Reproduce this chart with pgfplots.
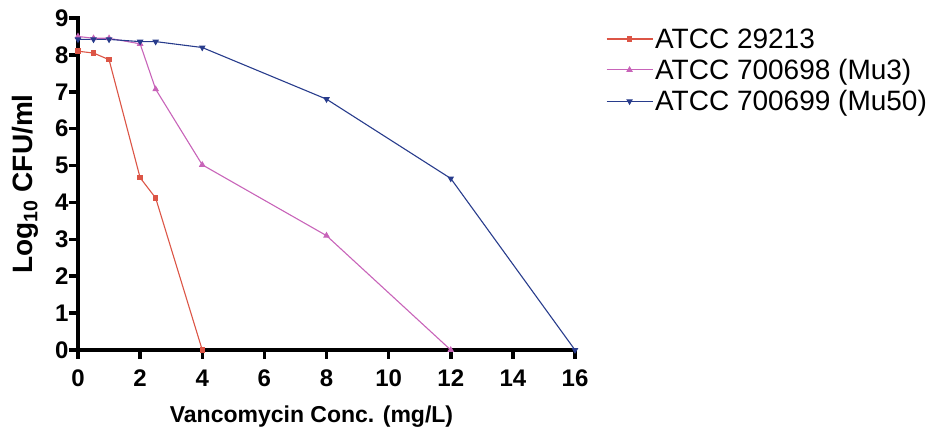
\documentclass[border=0pt]{standalone}
\usepackage{pgfplots}
\pgfplotsset{compat=1.18}
\usepackage{fontspec}
\setmainfont{Liberation Sans}
\definecolor{cred}{RGB}{220,85,70}
\definecolor{cmag}{RGB}{200,100,185}
\definecolor{cblue}{RGB}{40,60,140}
\begin{document}
\begin{tikzpicture}[x=1pt,y=1pt]
\path[use as bounding box] (0,0) rectangle (931,435);
\begin{axis}[
  at={(78pt,85pt)}, anchor=origin,
  scale only axis, width=497pt, height=332pt,
  xmin=0, xmax=16, ymin=0, ymax=9,
  clip=false,
  axis x line*=bottom, axis y line*=left,
  axis line style={line width=4.5pt, -},
  xtick={0,2,...,16}, ytick={0,1,...,9},
  tick align=outside, major tick length=9pt,
  major tick style={black, line width=3.5pt},
  /pgf/number format/assume math mode=true,
  tick label style={font=\fontsize{24}{27}\selectfont\bfseries},
  xticklabel style={yshift=-7pt},
  yticklabel style={xshift=3pt},
  xlabel={\textbf{Vancomycin Conc. (mg/L)}},
  ylabel={\textbf{Log\textsubscript{10} CFU/ml}},
  xlabel style={font=\fontsize{23}{26}\selectfont, yshift=-12pt, xshift=-15pt},
  ylabel style={font=\fontsize{28}{31}\selectfont, yshift=10pt},
  legend style={at={(1.062,0.975)}, anchor=north west, draw=none, fill=none,
    font=\fontsize{28}{31}\selectfont, row sep=5.5pt, inner sep=0pt,
    /tikz/every even column/.append style={column sep=0pt}},
  legend cell align=left,
  legend image code/.code={\draw[#1] (0pt,0pt) -- (46pt,0pt); \path[#1,mark repeat=1] plot coordinates {(23pt,0pt)};},
]
\draw[black, line width=4.5pt, line cap=rect] (rel axis cs:0,1) -- (rel axis cs:0,0) -- (rel axis cs:1,0);
\addplot[cred, line width=1.1pt, mark=square*, mark size=2.2pt] coordinates {
 (0,8.1) (0.5,8.05) (1,7.87) (2,4.67) (2.5,4.12) (4,0)};
\addlegendentry{ATCC 29213}
\addplot[cmag, line width=1.1pt, mark=triangle*, mark size=2.8pt] coordinates {
 (0,8.5) (0.5,8.45) (1,8.45) (2,8.3) (2.5,7.07) (4,5.02) (8,3.1) (12,0)};
\addlegendentry{ATCC 700698 (Mu3)}
\addplot[cblue, line width=1.1pt, mark=triangle*, mark options={rotate=180}, mark size=2.8pt] coordinates {
 (0,8.42) (0.5,8.42) (1,8.42) (2,8.36) (2.5,8.36) (4,8.2) (8,6.8) (12,4.65) (16,0)};
\addlegendentry{ATCC 700699 (Mu50)}
\end{axis}
\end{tikzpicture}
\end{document}
